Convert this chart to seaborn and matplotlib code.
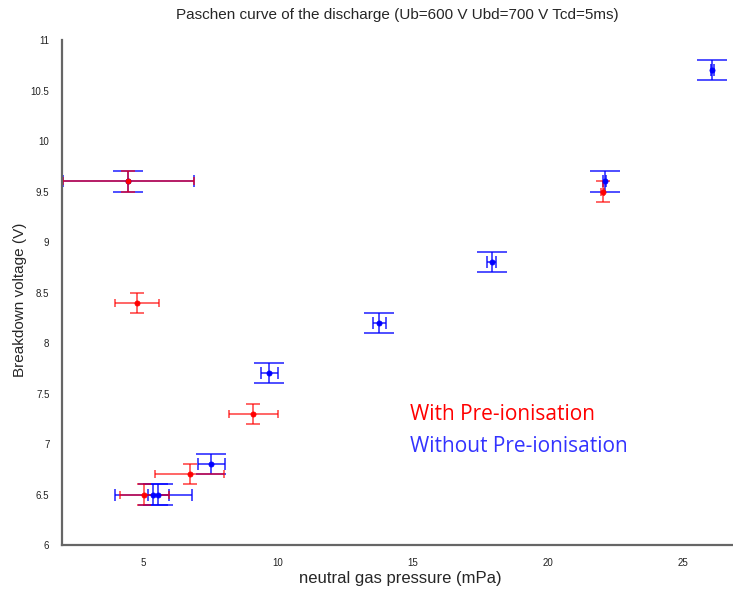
import seaborn as sns
import pandas as pd
import matplotlib
matplotlib.use("Agg")
import matplotlib.pyplot as plt

# Data
red_x = [4.46, 4.79, 5.05, 6.73, 9.09, 22.02]
red_y = [9.6, 8.4, 6.5, 6.7, 7.3, 9.5]
red_xerr = [2.44, 0.82, 0.9, 1.27, 0.91, 0.05]
red_yerr = [0.1, 0.1, 0.1, 0.1, 0.1, 0.1]

blue_x = [4.46, 5.38, 5.57, 7.52, 9.68, 13.75, 17.91, 22.1, 26.09]
blue_y = [9.6, 6.5, 6.5, 6.8, 7.7, 8.2, 8.8, 9.6, 10.7]
blue_xerr = [2.44, 1.42, 0.4, 0.5, 0.31, 0.25, 0.16, 0.05, 0.05]
blue_yerr = [0.1, 0.1, 0.1, 0.1, 0.1, 0.1, 0.1, 0.1, 0.1]

x_ticks = [5, 10, 15, 20, 25]
y_ticks = [6, 6.5, 7, 7.5, 8, 8.5, 9, 9.5, 10, 10.5, 11]

red_df = pd.DataFrame({'p': red_x, 'v': red_y})
blue_df = pd.DataFrame({'p': blue_x, 'v': blue_y})

sns.set_style("white")
sans = ['Liberation Sans', 'DejaVu Sans']
label_font = ['Open Sans', 'DejaVu Sans']

fig = plt.figure(figsize=(7.33, 5.92), dpi=100)
ax = fig.add_axes([62 / 733, 47 / 592, 675 / 733, 505 / 592])

# Blue series: wide y caps, short x caps
ax.errorbar(blue_x, blue_y, yerr=blue_yerr, fmt='none', ecolor='blue',
            elinewidth=1.3, capsize=10.5, capthick=1.3, alpha=0.75)
ax.errorbar(blue_x, blue_y, xerr=blue_xerr, fmt='none', ecolor='blue',
            elinewidth=1.3, capsize=4.3, capthick=1.3, alpha=0.75)
sns.scatterplot(data=blue_df, x='p', y='v', color='blue', s=14,
                edgecolor='blue', linewidth=0.5, ax=ax, zorder=5)

# Red series
ax.errorbar(red_x, red_y, yerr=red_yerr, fmt='none', ecolor='red',
            elinewidth=1.3, capsize=5, capthick=1.3, alpha=0.65)
ax.errorbar(red_x, red_y, xerr=red_xerr, fmt='none', ecolor='red',
            elinewidth=1.3, capsize=3, capthick=1.3, alpha=0.65)
sns.scatterplot(data=red_df, x='p', y='v', color='red', s=14,
                edgecolor='red', linewidth=0.5, ax=ax, zorder=6)

ax.set_xlim(2, 27)
ax.set_ylim(6, 11)
ax.set_xticks(x_ticks)
ax.set_yticks(y_ticks)
ax.set_xticklabels([str(t) for t in x_ticks], family=sans, fontsize=7)
ax.set_yticklabels([f'{t:g}' for t in y_ticks], family=sans, fontsize=7)
ax.tick_params(direction='in', length=5, width=0.8, color='#333333',
               labelcolor='#222222')
ax.tick_params(axis='x', pad=9)
ax.tick_params(axis='y', pad=9)

sns.despine(ax=ax)
for side in ['left', 'bottom']:
    ax.spines[side].set_color('#666666')
    ax.spines[side].set_linewidth(1.6)

ax.set_xlabel('')
ax.set_ylabel('')
fig.text(397 / 733, 1 - 15 / 592,
         'Paschen curve of the discharge (Ub=600 V Ubd=700 V Tcd=5ms)',
         family=sans, fontsize=11, ha='center', va='center')
fig.text(400 / 733, 1 - 578 / 592, 'neutral gas pressure (mPa)',
         family=sans, fontsize=12, ha='center', va='center')
fig.text(20 / 733, 1 - 300 / 592, 'Breakdown voltage (V)',
         family=sans, fontsize=11, ha='center', va='center', rotation=90)

fig.text(410 / 733, 1 - 415 / 592, 'With Pre-ionisation', color='red',
         fontsize=15, family=label_font, va='center')
fig.text(410 / 733, 1 - 446 / 592, 'Without Pre-ionisation',
         color='#3333ff', fontsize=15, family=label_font, va='center')

fig.savefig('out.png', dpi=100)
